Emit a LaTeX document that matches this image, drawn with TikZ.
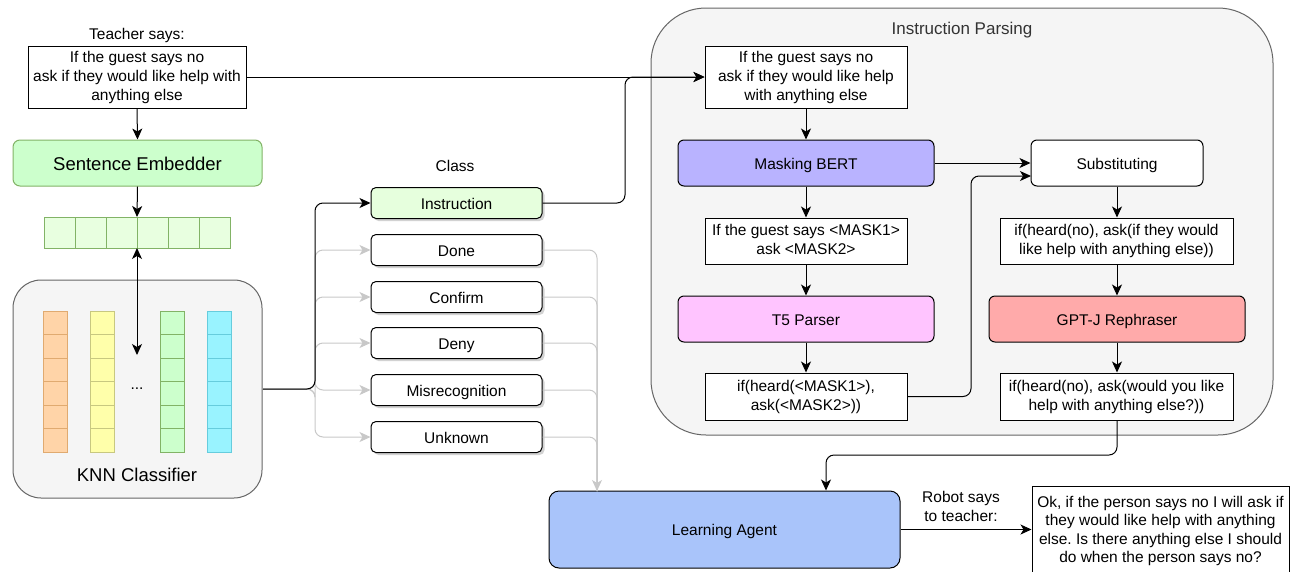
\documentclass[tikz,border=0pt]{standalone}
\usepackage{fontspec}
\setmainfont{Liberation Sans}
\frenchspacing
\usetikzlibrary{arrows.meta,shadows}
\definecolor{embfill}{HTML}{CCFFCC}
\definecolor{embdraw}{HTML}{82B366}
\definecolor{vecfill}{HTML}{E8FFE0}
\definecolor{orfill}{HTML}{FFD4A8}
\definecolor{ordraw}{HTML}{E0AA70}
\definecolor{yefill}{HTML}{FFFFAA}
\definecolor{yedraw}{HTML}{C8C880}
\definecolor{cyfill}{HTML}{99F3FF}
\definecolor{cydraw}{HTML}{66CCDD}
\definecolor{panel}{HTML}{F5F5F5}
\definecolor{paneldraw}{HTML}{666666}
\definecolor{instfill}{HTML}{E6FFDD}
\definecolor{bertfill}{HTML}{B9B3FF}
\definecolor{tfivefill}{HTML}{FFC4FF}
\definecolor{gptfill}{HTML}{FFAAAA}
\definecolor{lafill}{HTML}{A9C4FA}
\definecolor{greyline}{HTML}{C8C8C8}
\definecolor{titlegrey}{HTML}{333333}
\begin{document}
\begin{tikzpicture}[x=1pt,y=-1pt,
  txt/.style={font=\fontsize{15.5}{19}\selectfont\frenchspacing, align=center, inner sep=0pt,
     execute at begin node={\rule{0pt}{16pt}}, execute at end node={\rule[-3pt]{0pt}{3pt}}},
  big/.style={font=\fontsize{18.5}{22}\selectfont,
     execute at begin node={\rule{0pt}{18pt}}, execute at end node={\rule[-4pt]{0pt}{4pt}}},
  box/.style={draw=black, fill=white, line width=1pt, txt},
  rbox/.style={box, rounded corners=6pt},
  classbox/.style={rbox, minimum width=171pt, minimum height=31pt, rounded corners=5pt,
     drop shadow={shadow xshift=2.5pt, shadow yshift=-2.5pt, fill=black!35}},
  cell/.style={line width=1pt},
  arr/.style={-{Stealth[length=11pt,width=10pt,inset=3pt]}, line width=1pt, rounded corners=8pt},
  garr/.style={draw=greyline, line width=1pt, rounded corners=8pt},
  garrh/.style={garr, -{Stealth[length=11pt,width=10pt,inset=3pt]}}
]
\useasboundingbox (0,0) rectangle (1291,571);

% ---------- left part ----------
\node[txt] (teachlbl) at (137,33) {Teacher says:};
\node[box, minimum width=218pt, minimum height=62pt] (teacher) at (137,77)
  {If the guest says no\\ask if they would like help with\\anything else};
\node[txt, big, draw=embdraw, fill=embfill, line width=1pt, rounded corners=7pt,
  minimum width=249pt, minimum height=46pt] (emb) at (137.5,163) {Sentence Embedder};

% embedding vector
\foreach \i in {0,...,5} {
  \draw[cell, draw=embdraw, fill=vecfill] (44+31*\i,217) rectangle (75+31*\i,248);
}
\coordinate (vectop) at (137,217);
\coordinate (vecbot) at (137,248);

% KNN classifier
\node[draw=paneldraw, fill=panel, line width=1pt, rounded corners=28pt,
  minimum width=249pt, minimum height=218pt] (knn) at (137.5,389) {};
\foreach \x/\f/\d in {43/orfill/ordraw, 90/yefill/yedraw, 160/embfill/embdraw, 207/cyfill/cydraw} {
  \foreach \j in {0,...,5} {
    \draw[cell, draw=\d, fill=\f] (\x,311+23.5*\j) rectangle (\x+24,334.5+23.5*\j);
  }
}
\node[txt] (dots) at (137,383) {...};
\node[txt, big] (knnlbl) at (137,474) {KNN Classifier};
\coordinate (knnin) at (137,355);

\draw[arr] (teacher.south) -- (emb.north);
\draw[arr] (emb.south) -- (vectop);
\draw[{Stealth[length=11pt,width=10pt,inset=3pt]}-{Stealth[length=11pt,width=10pt,inset=3pt]}, line width=1pt] (vecbot) -- (knnin);

% ---------- classes ----------
\node[txt] (classlbl) at (455,165) {Class};
\node[classbox, fill=instfill] (inst) at (456.5,203) {Instruction};
\node[classbox] (done) at (456.5,250) {Done};
\node[classbox] (conf) at (456.5,297) {Confirm};
\node[classbox] (deny) at (456.5,343) {Deny};
\node[classbox] (misr) at (456.5,390) {Misrecognition};
\node[classbox] (unkn) at (456.5,437) {Unknown};

\coordinate (split) at (315,389);
\foreach \b in {done,conf,deny,misr,unkn} {
  \draw[garrh] (knn.east) -- (split) -- (split |- \b.west) -- (\b.west);
}
\draw[arr] (knn.east) -- (split) -- (split |- inst.west) -- (inst.west);

% ---------- learning agent ----------
\node[rbox, fill=lafill, minimum width=351pt, minimum height=77pt, rounded corners=10pt] (la) at (724.5,529.5) {Learning Agent};
\foreach \b in {conf,deny,misr,unkn} {
  \draw[garr] (\b.east) -- (597,0 |- \b.east) -- (597,491);
}
\draw[garrh] (done.east) -- (597,0 |- done.east) -- (597,491);

% ---------- instruction parsing ----------
\node[draw=paneldraw, fill=panel, line width=1pt, rounded corners=55pt,
  minimum width=622pt, minimum height=427pt] (panelbox) at (962,221.5) {};
\node[txt, text=titlegrey, font=\fontsize{17}{20}\selectfont] (ptitle) at (962,28) {Instruction Parsing};

\node[box, minimum width=202pt, minimum height=62pt] (p1) at (806,77)
  {If the guest says no\\ask if they would like help\\with anything else};
\node[rbox, fill=bertfill, minimum width=256pt, minimum height=46pt] (bert) at (806,163) {Masking BERT};
\node[box, minimum width=202pt, minimum height=46pt] (mask) at (806,241)
  {If the guest says <MASK1>\\ask <MASK2>};
\node[rbox, fill=tfivefill, minimum width=256pt, minimum height=46pt] (t5) at (806,319) {T5 Parser};
\node[box, minimum width=202pt, minimum height=47pt] (ifmask) at (806,396.5)
  {if(heard(<MASK1>),\\ask(<MASK2>))};

\node[rbox, minimum width=172pt, minimum height=46pt] (subst) at (1117,163) {Substituting};
\node[box, minimum width=233pt, minimum height=46pt] (ifno) at (1116.5,241)
  {if(heard(no), ask(if they would\\like help with anything else))};
\node[rbox, fill=gptfill, minimum width=256pt, minimum height=46pt] (gpt) at (1117,319) {GPT-J Rephraser};
\node[box, minimum width=233pt, minimum height=47pt] (final) at (1116.5,396.5)
  {if(heard(no), ask(would you like\\help with anything else?))};

\draw[arr] (p1.south) -- (bert.north);
\draw[arr] (bert.south) -- (mask.north);
\draw[arr] (mask.south) -- (t5.north);
\draw[arr] (t5.south) -- (ifmask.north);
\draw[arr] (bert.east) -- (subst.west |- bert.east);
\draw[arr] (ifmask.east) -- (971,396.5) -- (971,176) -- (1031,176);
\draw[arr] (subst.south) -- (subst.south |- ifno.north);
\draw[arr] (subst.south |- ifno.south) -- (subst.south |- gpt.north);
\draw[arr] (subst.south |- gpt.south) -- (subst.south |- final.north);

% connectors into the parsing panel
\draw[arr] (teacher.east) -- (p1.west);
\draw[arr] (inst.east) -- (625,203) -- (625,77) -- (p1.west);

% final -> learning agent
\draw[arr] (subst.south |- final.south) -- (1117,455) -- (826,455) -- (826,0 |- la.north);

% robot output
\node[txt] (robotlbl) at (961,508) {Robot says\\to teacher:};
\node[draw=black, fill=white, line width=1pt, minimum width=257pt, minimum height=100pt] (outbox) at (1160.5,536) {};
\node[txt, font=\fontsize{15.5}{18.4}\selectfont\frenchspacing] (outtxt) at (1160.5,531)
  {Ok, if the person says no I will ask if\\they would like help with anything\\else. Is there anything else I should\\do when the person says no?};
\draw[arr] (la.east) -- (la.east -| outbox.west);
\end{tikzpicture}
\end{document}
